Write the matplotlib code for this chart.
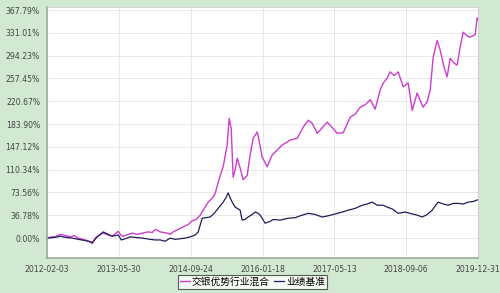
import matplotlib
matplotlib.use("Agg")
import matplotlib.pyplot as plt
import pandas as pd

plt.rcParams['font.family'] = ['DejaVu Sans', 'Noto Sans CJK SC']

# decimal years, cumulative return in %
fund_t = [2012.093, 2012.166, 2012.240, 2012.331, 2012.387, 2012.515, 2012.588, 2012.662,
          2012.790, 2012.864, 2012.919, 2012.974, 2013.065, 2013.120, 2013.212, 2013.285,
          2013.396, 2013.451, 2013.487, 2013.579, 2013.652, 2013.744, 2013.836, 2013.946,
          2014.019, 2014.074, 2014.129, 2014.166, 2014.295, 2014.350, 2014.405, 2014.496,
          2014.588, 2014.680, 2014.753, 2014.827, 2014.900, 2014.955, 2015.047, 2015.138,
          2015.175, 2015.267, 2015.322, 2015.395, 2015.432, 2015.469, 2015.505, 2015.542,
          2015.579, 2015.634, 2015.689, 2015.762, 2015.817, 2015.872, 2015.945, 2015.964,
          2016.037, 2016.129, 2016.221, 2016.313, 2016.404, 2016.551, 2016.680, 2016.790,
          2016.881, 2016.955, 2017.046, 2017.138, 2017.230, 2017.322, 2017.413, 2017.523,
          2017.652, 2017.744, 2017.835, 2017.927, 2018.019, 2018.110, 2018.202, 2018.257,
          2018.331, 2018.386, 2018.459, 2018.532, 2018.624, 2018.716, 2018.789, 2018.881,
          2018.936, 2018.991, 2019.064, 2019.120, 2019.175, 2019.248, 2019.303, 2019.376,
          2019.431, 2019.486, 2019.560, 2019.615, 2019.670, 2019.725, 2019.798, 2019.853,
          2019.945, 2019.982, 2020.000]
fund_v = [0, 2, 2, 6, 5, 2, 4, 0,
          -3, -5, -9, 0, 6, 8, 5, 3,
          11, 4, 3, 6, 8, 6, 8, 10,
          9, 14, 12, 10, 8, 6, 10, 14,
          18, 22, 28, 30, 37, 45, 58, 66,
          72, 101, 115, 150, 193, 177, 98, 110,
          129, 113, 94, 101, 134, 161, 171, 165,
          131, 115, 134, 142, 150, 158, 161, 179,
          190, 185, 169, 178, 187, 178, 169, 170,
          195, 200, 211, 215, 223, 208, 239, 250,
          258, 268, 262, 268, 244, 250, 206, 234,
          222, 211, 220, 239, 292, 319, 303, 275,
          260, 290, 282, 279, 308, 332, 326, 324,
          328, 355, 352]

bench_t = [2012.093, 2012.221, 2012.331, 2012.442, 2012.552, 2012.662, 2012.790, 2012.919,
           2013.010, 2013.120, 2013.212, 2013.285, 2013.396, 2013.451, 2013.524, 2013.616,
           2013.726, 2013.836, 2013.983, 2014.074, 2014.166, 2014.258, 2014.350, 2014.441,
           2014.533, 2014.625, 2014.716, 2014.808, 2014.863, 2014.937, 2015.010, 2015.083,
           2015.157, 2015.230, 2015.322, 2015.377, 2015.414, 2015.450, 2015.487, 2015.542,
           2015.579, 2015.634, 2015.670, 2015.725, 2015.780, 2015.854, 2015.909, 2015.964,
           2016.001, 2016.092, 2016.184, 2016.239, 2016.368, 2016.514, 2016.643, 2016.735,
           2016.881, 2017.010, 2017.138, 2017.248, 2017.377, 2017.505, 2017.615, 2017.744,
           2017.872, 2017.964, 2018.055, 2018.147, 2018.257, 2018.331, 2018.422, 2018.532,
           2018.661, 2018.789, 2018.881, 2018.973, 2019.064, 2019.156, 2019.211, 2019.266,
           2019.358, 2019.450, 2019.541, 2019.633, 2019.725, 2019.816, 2019.908, 2020.000]
bench_v = [0, 1, 3, 1, 0, -2, -4, -7,
           2, 10, 6, 3, 5, -3, -1, 2,
           1, 0, -2, -3, -3, -5, 0, -2,
           -1, 0, 2, 5, 10, 32, 33, 34,
           40, 48, 58, 66, 73, 65, 58, 50,
           48, 45, 29, 30, 34, 38, 42, 40,
           37, 24, 27, 30, 29, 32, 33, 36,
           40, 38, 34, 36, 39, 42, 45, 48,
           53, 55, 58, 53, 53, 50, 47, 40,
           42, 39, 37, 34, 38, 45, 52, 58,
           55, 53, 56, 56, 55, 58, 59, 62]

x_ticks = ["2012-02-03", "2013-05-30", "2014-09-24", "2016-01-18",
           "2017-05-13", "2018-09-06", "2019-12-31"]
y_ticks = [0.00, 36.78, 73.56, 110.34, 147.12, 183.90, 220.67, 257.45, 294.23, 331.01, 367.79]
names = ["交银优势行业混合", "业绩基准"]


def to_date(years):
    out = []
    for y in years:
        yr = int(y)
        start = pd.Timestamp(yr, 1, 1)
        length = pd.Timestamp(yr + 1, 1, 1) - start
        out.append(start + (y - yr) * length)
    return out


bg = "#d0e9d0"
fig = plt.figure(figsize=(5, 2.93), dpi=100, facecolor=bg)
ax = fig.add_axes((0.094, 0.119, 0.862, 0.857))
ax.set_facecolor("white")

ax.plot(to_date(fund_t), fund_v, color="#cc3dcc", lw=1.0, label=names[0])
ax.plot(to_date(bench_t), bench_v, color="#1e1e55", lw=0.9, label=names[1])

xt = pd.to_datetime(x_ticks)
ax.set_xlim(xt[0], xt[-1])
ax.set_ylim(-32.3, 372.6)
ax.set_xticks(xt)
ax.set_xticklabels(x_ticks)
ax.set_yticks(y_ticks)
ax.set_yticklabels([f"{v:.2f}%" for v in y_ticks])
ax.tick_params(labelsize=5.6, colors="#444444", length=0, pad=5)
ax.grid(True, color="#e8e8e8", lw=0.7)

for s in ["top", "right"]:
    ax.spines[s].set_color("#cccccc")
    ax.spines[s].set_linewidth(0.6)
for s in ["left", "bottom"]:
    ax.spines[s].set_color("#a0aaa0")
    ax.spines[s].set_linewidth(1.2)

leg = fig.legend(loc="center", bbox_to_anchor=(0.505, 0.038), ncol=2,
                 frameon=True, fancybox=False, handlelength=1.0, handletextpad=0.2,
                 columnspacing=0.5, borderpad=0.2,
                 prop={'family': ['Noto Sans CJK SC', 'DejaVu Sans'], 'size': 7})
leg.get_frame().set_edgecolor("#333333")
leg.get_frame().set_linewidth(0.8)

fig.savefig("out.png", dpi=100, facecolor=bg)
